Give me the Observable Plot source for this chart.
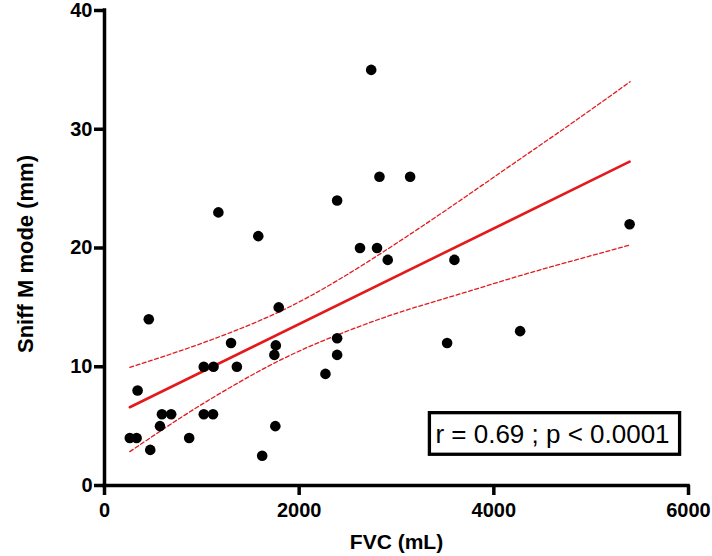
<!DOCTYPE html>
<html><head><meta charset="utf-8">
<script src="https://cdn.jsdelivr.net/npm/d3@7"></script>
<script src="https://cdn.jsdelivr.net/npm/@observablehq/plot@0.6"></script>
<style>html,body{margin:0;padding:0;background:#fff;}</style>
</head><body><div id="chart"></div>
<script>
// ---- data ----
const fvc   = [260, 330, 340, 455, 470, 570, 590, 685, 870, 1020, 1120, 1020, 1115, 1170, 1300, 1360, 1580, 1620, 1745, 1760, 1755, 1790, 2270, 2390, 2390, 2390, 2625, 2740, 2800, 2825, 2910, 3140, 3520, 3595, 4270, 5395];
const sniff = [4,   4,   8,   14,  3,   5,   6,   6,   4,   10,   10,   6,    6,    23,   12,   10,   21,   2.5,  11,   11.8, 5,    15,   9.4,  12.4, 11,   24,   20,   35,   20,   26,   19,   26,   12,   19,   13,   22];
const ciX     = [260, 800, 1300, 1840, 2400, 3000, 3600, 4200, 4800, 5400];
const ciUpper = [9.95, 11.4, 12.9, 14.8, 17.3, 20.4, 23.7, 27.1, 30.5, 34.0];
const ciLower = [2.85, 5.8, 8.3, 10.7, 12.7, 14.5, 16.0, 17.5, 18.9, 20.25];
const xTicks = [0, 2000, 4000, 6000];
const yTicks = [0, 10, 20, 30, 40];
const xLabel = "FVC (mL)";
const yLabel = "Sniff M mode (mm)";
const annotation = "r = 0.69 ; p < 0.0001";

const points = fvc.map((x, i) => ({x, y: sniff[i]}));
const band = ciX.map((x, i) => ({x, upper: ciUpper[i], lower: ciLower[i]}));
const red = "#e31a1c";
const font = "'Liberation Sans', Arial, Helvetica, sans-serif";

const plot = Plot.plot({
  width: 712, height: 556,
  marginLeft: 104, marginRight: 24, marginTop: 10, marginBottom: 71,
  style: {fontFamily: font, fontWeight: "bold", background: "#fff", color: "#000", overflow: "visible"},
  x: {domain: [0, 6000]},
  y: {domain: [0, 40]},
  marks: [
    Plot.ruleY([0], {stroke: "#000", strokeWidth: 3.5, strokeLinecap: "square"}),
    Plot.ruleX([0], {stroke: "#000", strokeWidth: 3.5, strokeLinecap: "square"}),
    Plot.axisX({ticks: xTicks, tickSize: 10, tickPadding: 7, strokeWidth: 3.5, fontSize: 20, fontWeight: "bold", label: null, tickFormat: d => String(d)}),
    Plot.axisY({ticks: yTicks, tickSize: 10, tickPadding: 2, strokeWidth: 3.5, fontSize: 20, fontWeight: "bold", label: null, tickFormat: d => String(d)}),
    Plot.line(band, {x: "x", y: "upper", curve: "natural", stroke: red, strokeWidth: 1.3, strokeDasharray: "4,2.5"}),
    Plot.line(band, {x: "x", y: "lower", curve: "natural", stroke: red, strokeWidth: 1.3, strokeDasharray: "4,2.5"}),
    Plot.linearRegressionY(points, {x: "x", y: "y", stroke: red, strokeWidth: 2.6, ci: 0}),
    Plot.dot(points, {x: "x", y: "y", r: 5.3, fill: "#000", stroke: "none"}),
    Plot.text([xLabel], {frameAnchor: "bottom", lineAnchor: "top", dy: 49, fontSize: 21, fontWeight: "bold"}),
    Plot.text([yLabel], {frameAnchor: "left", rotate: -90, textAnchor: "middle", lineAnchor: "middle", dx: -79, dy: 6, fontSize: 22, fontWeight: "bold"}),
    Plot.text([annotation], {frameAnchor: "bottom-right", textAnchor: "middle", lineAnchor: "middle", dx: -136, dy: -51, fontSize: 26, fontWeight: "normal"})
  ]
});
document.getElementById("chart").appendChild(plot);

// frame box around the annotation text, sized from the rendered text
const svg = plot.tagName.toLowerCase() === "svg" ? plot : plot.querySelector("svg");
const t = Array.from(svg.querySelectorAll("text")).find(el => el.textContent === annotation);
if (t) {
  const sr = svg.getBoundingClientRect();
  const b = t.getBoundingClientRect();
  const fs = 26;
  const cx = b.left - sr.left + b.width / 2 + 2;
  const top = b.top - sr.top;
  const baseline = top + (b.height - 1.117 * fs) / 2 + 0.905 * fs;
  const cy = baseline - 0.36 * fs;
  const w = b.width + 16, h = 41.6;
  const rect = document.createElementNS("http://www.w3.org/2000/svg", "rect");
  rect.setAttribute("x", cx - w / 2);
  rect.setAttribute("y", cy - h / 2);
  rect.setAttribute("width", w);
  rect.setAttribute("height", h);
  rect.setAttribute("fill", "none");
  rect.setAttribute("stroke", "#000");
  rect.setAttribute("stroke-width", 3.3);
  svg.appendChild(rect);
}
</script>
</body></html>
